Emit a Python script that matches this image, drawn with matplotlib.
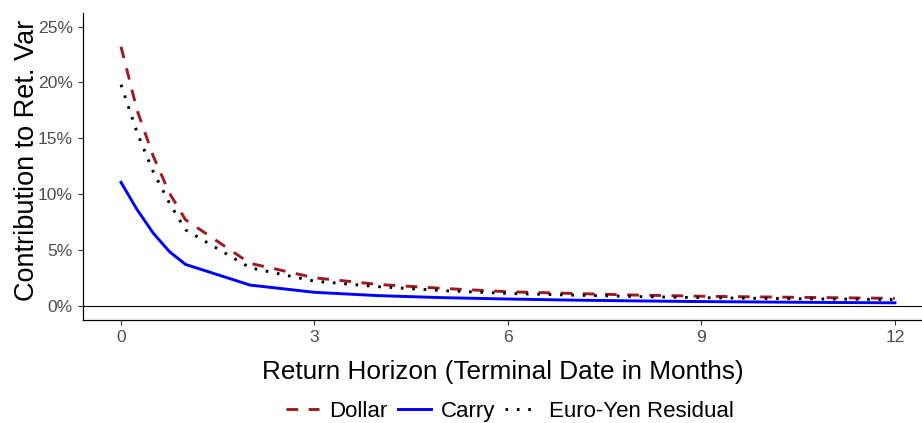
import matplotlib
matplotlib.use("Agg")
import matplotlib.pyplot as plt
from matplotlib.ticker import FuncFormatter

plt.rcParams['font.family'] = ['Liberation Sans', 'DejaVu Sans']

horizon = [0, 0.25, 0.5, 0.75, 1, 2, 3, 4, 5, 6, 7, 8, 9, 10, 11, 12]
dollar = [23.2, 17.5, 13.4, 10.1, 7.7, 3.8, 2.5, 1.9, 1.55, 1.25, 1.1, 0.95, 0.85, 0.78, 0.72, 0.66]
carry = [11.05, 8.6, 6.5, 4.85, 3.7, 1.85, 1.2, 0.9, 0.72, 0.6, 0.5, 0.43, 0.37, 0.33, 0.29, 0.26]
euro_yen = [19.8, 15.5, 12.0, 9.2, 6.8, 3.4, 2.2, 1.7, 1.35, 1.1, 0.95, 0.82, 0.72, 0.65, 0.6, 0.55]
x_ticks = [0, 3, 6, 9, 12]
y_ticks = [0, 5, 10, 15, 20, 25]

fig = plt.figure(figsize=(9.22, 4.23), dpi=100)
ax = fig.add_axes([0.0897, 0.2435, 1.0 - 0.0897, 0.970 - 0.2435])

lw = 2.1
ax.axhline(0, color='black', lw=0.8, zorder=1)
l1, = ax.plot(horizon, dollar, color='#9E1A22', lw=lw, linestyle=(0, (4, 3.6)), label='Dollar', zorder=3)
l2, = ax.plot(horizon, carry, color='#0000FF', lw=lw, label='Carry', zorder=3)
l3, = ax.plot(horizon, euro_yen, color='black', lw=lw, linestyle=(0, (0.9, 3.0)), label='Euro-Yen Residual', zorder=3)

ax.set_xlim(-0.594, 12.42)
ax.set_ylim(-1.28, 26.25)
ax.set_xticks(x_ticks)
ax.set_yticks(y_ticks)
ax.yaxis.set_major_formatter(FuncFormatter(lambda v, p: f"{int(v)}%"))

for s in ['top', 'right']:
    ax.spines[s].set_visible(False)
for s in ['left', 'bottom']:
    ax.spines[s].set_linewidth(0.9)
    ax.spines[s].set_color('black')

ax.tick_params(axis='both', colors='#333333', labelcolor='#4D4D4D', labelsize=12.6, length=3.5, width=0.8)

ax.set_xlabel('Return Horizon (Terminal Date in Months)', fontsize=18.8, labelpad=11)
ax.set_ylabel('Contribution to Ret. Var', fontsize=19.5)
ax.yaxis.set_label_coords(-0.051, 0.52)

leg = fig.legend(handles=[l1, l2, l3], loc='center', bbox_to_anchor=(0.553, 0.027), ncol=3,
                 frameon=False, fontsize=16, handlelength=1.5, handletextpad=0.45,
                 columnspacing=0.45)

fig.savefig('out.png', dpi=100)
